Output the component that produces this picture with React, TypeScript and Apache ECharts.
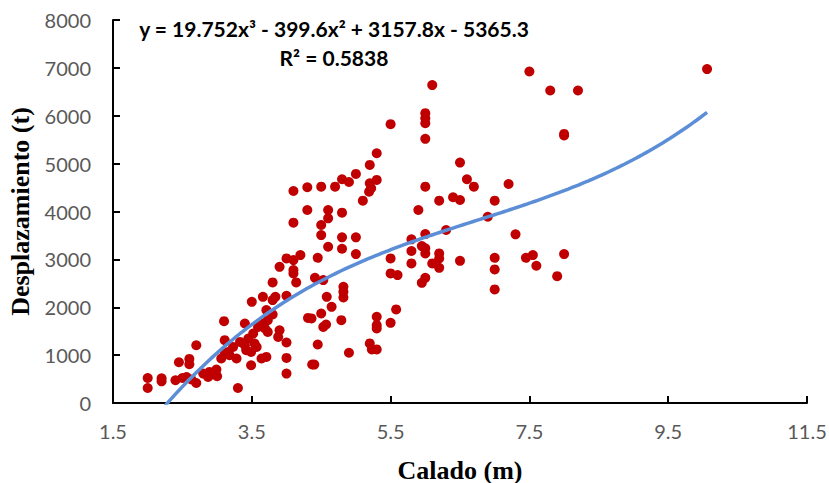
import React, { useEffect, useRef } from "react";
import * as echarts from "echarts";

// Calado (m)
const calado: number[] = [
  2.0, 2.0, 2.2, 2.2, 2.4, 2.5, 2.56, 2.45, 2.6, 2.6, 2.7, 2.7, 2.63, 2.8, 2.87, 2.89, 2.93, 2.99, 3.0,
  3.06, 3.1, 3.11, 3.11, 3.16, 3.18, 3.23, 3.28, 3.3, 3.33, 3.4, 3.4, 3.42, 3.45, 3.49, 3.49, 3.5,
  3.52, 3.54, 3.57, 3.59, 3.64, 3.66, 3.66, 3.69, 3.71, 3.71, 3.73, 3.73, 3.8, 3.8, 3.8, 3.84, 3.88,
  3.9, 3.9, 4.0, 4.0, 4.0, 4.0, 4.0, 4.1, 4.1, 4.1, 4.14, 4.1, 4.1, 4.2,
  4.3, 4.5, 4.7, 4.3, 4.6, 4.6, 4.8, 4.5, 4.5, 4.8, 5.0, 4.6, 4.8, 5.0, 4.45, 4.41, 4.53, 4.58, 4.65,
  4.31, 4.36, 4.5, 4.53, 4.57, 4.82, 4.82, 4.82, 4.79, 4.45, 4.4, 4.37, 4.9, 5.2, 5.23, 5.3, 5.3, 5.3,
  5.3, 5.58, 5.5,
  5.3, 5.2, 5.0, 4.9, 4.8, 5.2, 5.3, 5.22, 5.19, 5.1, 5.5, 6.0, 6.0, 6.0, 6.0, 6.1,
  5.8, 5.8, 5.8, 5.5, 5.5, 5.6, 5.9, 5.95, 6.0, 6.0, 5.95, 6.0, 6.0, 6.0, 6.2, 6.4, 6.5, 6.5, 6.6,
  6.7, 7.2, 7.0, 6.9, 7.3, 6.3, 6.2, 6.2, 6.1, 6.2, 6.5, 7.0, 7.0, 7.0, 7.45, 7.55, 7.6, 7.9, 8.0,
  8.0, 8.0, 7.5, 7.8, 8.2, 10.06,
];

// Desplazamiento (t)
const desplazamiento: number[] = [
  523, 314, 515, 452, 475, 523, 544, 851, 920, 810, 1207, 418, 490, 615, 545, 650, 600, 700, 560,
  929, 1710, 1312, 1033, 1067, 998, 1172, 929, 314, 1276, 1661, 1207, 1102, 1347, 1067, 789, 2113,
  1450, 1243, 1170, 1590, 929, 1661, 2218, 1556, 1940, 962, 1730, 1485, 1850, 2149, 2519, 2218, 1380,
  1520, 2845, 3020, 2238, 1264, 941, 615, 2985, 2776, 2707, 2519, 4429, 3766, 3090,
  4506, 4519, 4519, 4031, 4031, 3858, 3975, 3718, 3508, 3460, 3460, 3264, 3222, 3110, 3033, 2615, 2567, 2218, 2008,
  1778, 1766, 1870, 1590, 1640, 2427, 2322, 2205, 1730, 1222, 803, 805, 1050, 1245, 1120, 1120, 1799,
  1625, 1556, 1954, 1674,
  5217, 4973, 4785, 4617, 4673, 4590, 4660, 4485, 4414, 4226, 5824, 6054, 5950, 5845, 5517, 6640,
  3418, 3174, 2916, 3020, 2707, 2672, 4031, 3278, 3230, 3125, 2510, 2615, 3529, 4519, 4226, 4297, 4240, 5021, 4673,
  4519, 4575, 4226, 3891, 3523, 3613, 3125, 3020, 2916, 2824, 2970, 3033, 2790, 2372, 3033, 3090, 2866, 2650, 3110,
  5621, 5590, 6925, 6527, 6527, 6975,
];

// Trendline coefficients as printed on the chart: y = a x^3 + b x^2 + c x + d
const trendCoef: number[] = [19.752, -399.6, 3157.8, -5365.3];
const trendRange: number[] = [2.25, 10.06];

const xTicks: number[] = [1.5, 3.5, 5.5, 7.5, 9.5, 11.5];
const yTicks: number[] = [0, 1000, 2000, 3000, 4000, 5000, 6000, 7000, 8000];

const X0 = xTicks[0];

export default function App() {
  const ref = useRef<HTMLDivElement>(null);
  useEffect(() => {
    document.body.style.margin = "0";
    if (!ref.current) return;
    const chart = echarts.init(ref.current, undefined, { renderer: "svg" });

    const n = Math.min(calado.length, desplazamiento.length);
    const scatter: number[][] = [];
    for (let i = 0; i < n; i++) scatter.push([calado[i] - X0, desplazamiento[i]]);
    const trend: number[][] = [];
    const steps = 160;
    for (let k = 0; k <= steps; k++) {
      const x = trendRange[0] + ((trendRange[1] - trendRange[0]) * k) / steps;
      const y = trendCoef[0] * x * x * x + trendCoef[1] * x * x + trendCoef[2] * x + trendCoef[3];
      trend.push([x - X0, y]);
    }

    const labelStyle = { color: "#595959", fontFamily: "Lato", fontSize: 20 };

    chart.setOption({
      animation: false,
      grid: { left: 113, top: 20, right: 22, bottom: 80, containLabel: false, outerBoundsMode: "none" },
      xAxis: {
        type: "value",
        min: 0,
        max: xTicks[xTicks.length - 1] - X0,
        interval: xTicks[1] - xTicks[0],
        splitLine: { show: false },
        axisLine: { show: true, onZero: false, lineStyle: { color: "#000", width: 2 } },
        axisTick: { show: true, inside: true, length: 7, lineStyle: { color: "#000", width: 2 } },
        axisLabel: { ...labelStyle, margin: 18, formatter: (v: number) => (v + X0).toFixed(1) },
        name: "Calado (m)",
        nameLocation: "middle",
        nameGap: 54,
        nameTextStyle: { fontFamily: "Liberation Serif", fontWeight: "bold", fontSize: 26, color: "#000" },
      },
      yAxis: {
        type: "value",
        min: yTicks[0],
        max: yTicks[yTicks.length - 1],
        interval: yTicks[1] - yTicks[0],
        splitLine: { show: false },
        axisLine: { show: true, lineStyle: { color: "#000", width: 2 } },
        axisTick: { show: true, inside: true, length: 7, lineStyle: { color: "#000", width: 2 } },
        axisLabel: { ...labelStyle, margin: 22, formatter: (v: number) => String(v) },
        name: "Desplazamiento (t)",
        nameLocation: "middle",
        nameGap: 78,
        nameTextStyle: { fontFamily: "Liberation Serif", fontWeight: "bold", fontSize: 26, color: "#000" },
      },
      series: [
        {
          type: "scatter",
          data: scatter,
          symbol: "circle",
          symbolSize: 10,
          itemStyle: { color: "#C00000", opacity: 1 },
          z: 2,
        },
        {
          type: "line",
          data: trend,
          showSymbol: false,
          symbol: "none",
          clip: true,
          lineStyle: { color: "#5B8ED6", width: 3.5 },
          z: 3,
        },
      ],
      graphic: [
        {
          type: "text",
          x: 334,
          y: 28,
          style: {
            text: "y = 19.752x³ - 399.6x² + 3157.8x - 5365.3",
            fontFamily: "Lato",
            fontWeight: "bold",
            fontSize: 21,
            fill: "#000",
            align: "center",
            verticalAlign: "middle",
          },
        },
        {
          type: "text",
          x: 334,
          y: 57,
          style: {
            text: "R² = 0.5838",
            fontFamily: "Lato",
            fontWeight: "bold",
            fontSize: 21,
            fill: "#000",
            align: "center",
            verticalAlign: "middle",
          },
        },
      ],
    });
    return () => chart.dispose();
  }, []);
  return (
    <div
      ref={ref}
      style={{ position: "absolute", left: 0, top: 0, width: 829, height: 483 }}
    />
  );
}
